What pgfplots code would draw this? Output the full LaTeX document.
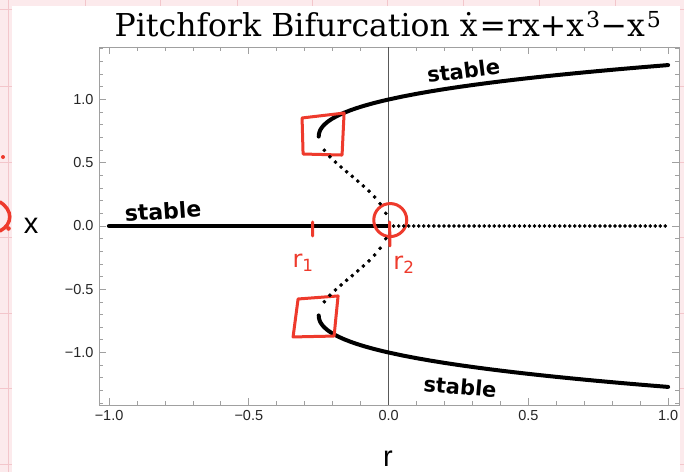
\documentclass[border=0pt]{standalone}
\usepackage{pgfplots}
\pgfplotsset{compat=1.18}
\usepackage{fontspec}
\setmainfont{Liberation Sans}
\newfontfamily\titlefont{DejaVu Serif}
\newfontfamily\handfont{DejaVu Sans}
\definecolor{pinkbg}{HTML}{FCEAEC}
\definecolor{pinkline}{HTML}{F3C6CB}
\definecolor{annred}{HTML}{EE3A2C}
\definecolor{framegray}{HTML}{A0A0A0}

\pgfplotstableread{
r x
0.018 0
0.036 0
0.054 0
0.072 0
0.090 0
0.108 0
0.126 0
0.144 0
0.162 0
0.180 0
0.198 0
0.216 0
0.234 0
0.252 0
0.270 0
0.288 0
0.306 0
0.324 0
0.342 0
0.360 0
0.378 0
0.396 0
0.414 0
0.432 0
0.450 0
0.468 0
0.486 0
0.504 0
0.522 0
0.540 0
0.558 0
0.576 0
0.594 0
0.612 0
0.630 0
0.648 0
0.666 0
0.684 0
0.702 0
0.720 0
0.738 0
0.756 0
0.774 0
0.792 0
0.810 0
0.828 0
0.846 0
0.864 0
0.882 0
0.900 0
0.918 0
0.936 0
0.954 0
0.972 0
0.990 0
}\zerounstable

\pgfplotstableread{
r x
-0.250 0.70711
-0.249 0.72912
-0.2475 0.74162
-0.245 0.75545
-0.2425 0.76590
-0.240 0.77460
-0.235 0.78897
-0.230 0.80089
-0.220 0.82049
-0.210 0.83666
-0.200 0.85065
-0.180 0.87440
-0.160 0.89443
-0.140 0.91196
-0.120 0.92766
-0.100 0.94197
-0.080 0.95515
-0.060 0.96742
-0.040 0.97891
-0.020 0.98974
0.000 1.00000
0.050 1.02358
0.100 1.04480
0.150 1.06417
0.200 1.08205
0.250 1.09868
0.300 1.11428
0.350 1.12898
0.400 1.14290
0.450 1.15614
0.500 1.16877
0.550 1.18086
0.600 1.19246
0.650 1.20361
0.700 1.21437
0.750 1.22474
0.800 1.23479
0.850 1.24451
0.900 1.25395
0.950 1.26311
1.000 1.27202
}\stableup

\pgfplotstableread{
r x
-0.250 -0.70711
-0.249 -0.72912
-0.2475 -0.74162
-0.245 -0.75545
-0.2425 -0.76590
-0.240 -0.77460
-0.235 -0.78897
-0.230 -0.80089
-0.220 -0.82049
-0.210 -0.83666
-0.200 -0.85065
-0.180 -0.87440
-0.160 -0.89443
-0.140 -0.91196
-0.120 -0.92766
-0.100 -0.94197
-0.080 -0.95515
-0.060 -0.96742
-0.040 -0.97891
-0.020 -0.98974
0.000 -1.00000
0.050 -1.02358
0.100 -1.04480
0.150 -1.06417
0.200 -1.08205
0.250 -1.09868
0.300 -1.11428
0.350 -1.12898
0.400 -1.14290
0.450 -1.15614
0.500 -1.16877
0.550 -1.18086
0.600 -1.19246
0.650 -1.20361
0.700 -1.21437
0.750 -1.22474
0.800 -1.23479
0.850 -1.24451
0.900 -1.25395
0.950 -1.26311
1.000 -1.27202
}\stabledown

\pgfplotstableread{
r x
-0.23 0.59882
-0.21 0.54772
-0.19 0.50503
-0.17 0.46600
-0.15 0.42869
-0.13 0.39191
-0.11 0.35473
-0.09 0.31623
-0.07 0.27520
-0.05 0.22975
-0.03 0.17595
-0.01 0.10051
-0.23 -0.59882
-0.21 -0.54772
-0.19 -0.50503
-0.17 -0.46600
-0.15 -0.42869
-0.13 -0.39191
-0.11 -0.35473
-0.09 -0.31623
-0.07 -0.27520
-0.05 -0.22975
-0.03 -0.17595
-0.01 -0.10051
}\unstable

\begin{document}
\begin{tikzpicture}
\useasboundingbox (0pt,0pt) rectangle (684pt,472pt);
\fill[pinkbg] (0pt,0pt) rectangle (684pt,472pt);
\foreach \xx in {8,85,160.5,237,312,387,463,539,615}
  \draw[pinkline,line width=1pt] (\xx pt,0pt) -- (\xx pt,472pt);
\foreach \yy in {462,385,310,235,159,84,8}
  \draw[pinkline,line width=1pt] (0pt,\yy pt) -- (684pt,\yy pt);
\fill[white] (12pt,0pt) rectangle (680pt,466pt);
% left margin marks
\draw[annred,line width=3.5pt,line cap=round] (0pt,270pt) .. controls (13pt,262pt) and (13pt,248pt) .. (0pt,241pt);
\fill[annred] (3pt,315pt) circle (2pt);
\fill[annred] (8.5pt,243.5pt) circle (2.3pt);

\begin{axis}[
  at={(99pt,67pt)}, anchor=south west, scale only axis,
  width=580pt, height=358pt,
  xmin=-1.036, xmax=1.039, ymin=-1.415, ymax=1.415,
  axis line style={framegray, line width=0.9pt},
  tick align=inside, major tick length=7pt, minor tick length=4pt,
  every tick/.style={framegray, line width=0.8pt},
  xtick={-1,-0.5,0,0.5,1}, xticklabels={−1.0,−0.5,0.0,0.5,1.0},
  ytick={-1,-0.5,0,0.5,1}, yticklabels={−1.0,−0.5,0.0,0.5,1.0},
  minor xtick={-0.9,-0.8,-0.7,-0.6,-0.4,-0.3,-0.2,-0.1,0.1,0.2,0.3,0.4,0.6,0.7,0.8,0.9},
  minor ytick={-1.4,-1.3,-1.2,-1.1,-0.9,-0.8,-0.7,-0.6,-0.4,-0.3,-0.2,-0.1,0.1,0.2,0.3,0.4,0.6,0.7,0.8,0.9,1.1,1.2,1.3,1.4},
  tick label style={font=\fontsize{14.5}{17}\selectfont, text=black!85},
  xticklabel style={yshift=-2pt}, yticklabel style={xshift=-2pt},
  clip=false,
]
\draw[black!65, line width=0.9pt] (axis cs:0,-1.415) -- (axis cs:0,1.415);
\addplot[black, line width=4.5pt, line cap=round] coordinates {(-1,0) (0,0)};
\addplot[black, only marks, mark=*, mark size=1.6pt] table[x=r,y=x] {\zerounstable};
\addplot[black, line width=4pt, line cap=round, line join=round] table[x=r,y=x] {\stableup};
\addplot[black, line width=4pt, line cap=round, line join=round] table[x=r,y=x] {\stabledown};
\addplot[black, only marks, mark=*, mark size=1.7pt] table[x=r,y=x] {\unstable};

% annotations
\draw[annred, line width=3pt, line join=round, line cap=round]
  (axis cs:-0.3095,0.854) -- (axis cs:-0.1592,0.893) -- (axis cs:-0.1664,0.561) -- (axis cs:-0.3059,0.569) -- cycle;
\draw[annred, line width=3pt, line join=round, line cap=round]
  (axis cs:-0.3238,-0.577) -- (axis cs:-0.1807,-0.553) -- (axis cs:-0.195,-0.870) -- (axis cs:-0.3417,-0.877) -- cycle;
\draw[annred, line width=3pt] (axis cs:0.006,0.047) circle (16.5pt);
\draw[annred, line width=3pt, line cap=round] (axis cs:-0.2719,0.032) -- (axis cs:-0.2715,-0.079);
\draw[annred, line width=3pt, line cap=round] (axis cs:0.0036,0.032) -- (axis cs:0.005,-0.158);
\node[annred, font=\handfont\fontsize{24}{24}\selectfont] at (axis cs:-0.306,-0.292) {r\textsubscript{1}};
\node[annred, font=\handfont\fontsize{24}{24}\selectfont] at (axis cs:0.055,-0.308) {r\textsubscript{2}};
\node[rotate=4, font=\handfont\bfseries\fontsize{22}{22}\selectfont] at (axis cs:-0.807,0.119) {stable};
\node[rotate=7, font=\handfont\bfseries\fontsize{21}{21}\selectfont] at (axis cs:0.268,1.229) {stable};
\node[rotate=-5, font=\handfont\bfseries\fontsize{21}{21}\selectfont] at (axis cs:0.256,-1.269) {stable};
\end{axis}

\node[anchor=base, font=\titlefont\fontsize{31.5}{32}\selectfont] at (388pt,435pt)
  {Pitchfork Bifurcation \.x\kern2pt=\kern1ptrx+x\kern2pt\textsuperscript{3}−x\kern2pt\textsuperscript{5}};
\node[font=\fontsize{29}{29}\selectfont] at (31pt,246pt) {x};
\node[font=\fontsize{29}{29}\selectfont] at (388pt,13pt) {r};
\end{tikzpicture}
\end{document}
